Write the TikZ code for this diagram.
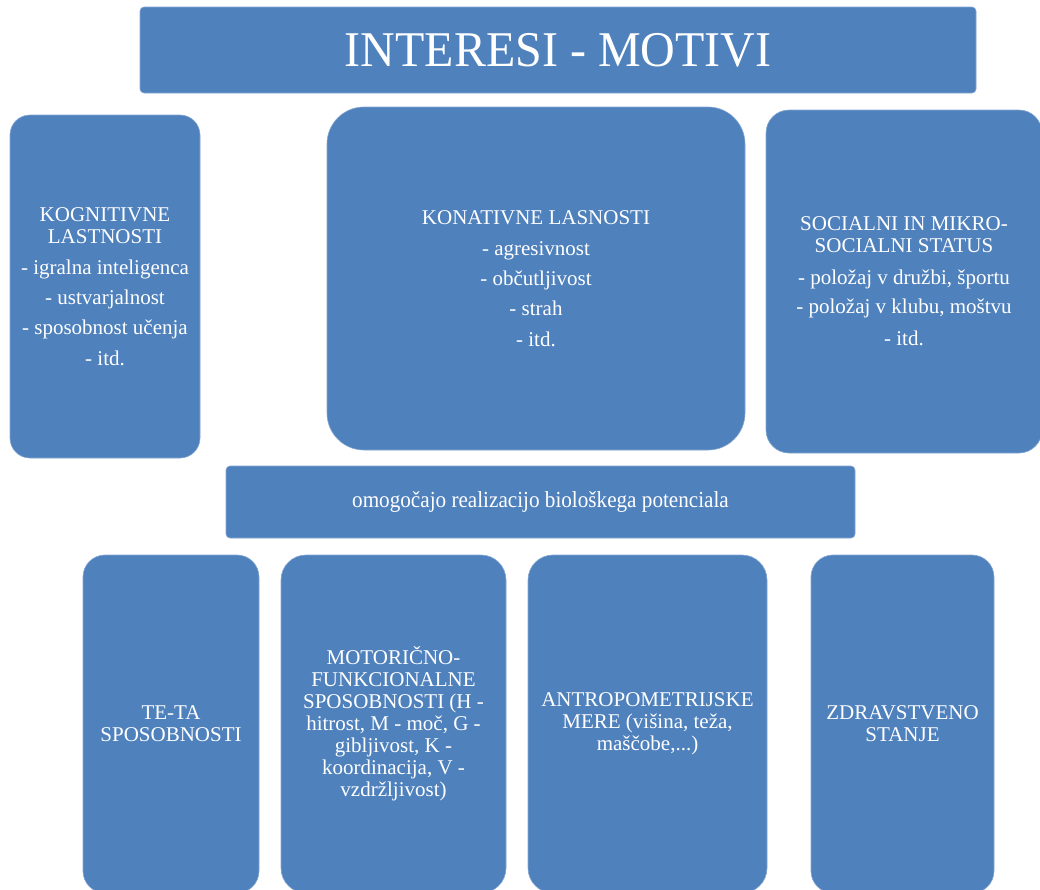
\documentclass[tikz,border=0pt]{standalone}
\usepackage{fontspec}
\setmainfont{Liberation Serif}
\definecolor{boxblue}{RGB}{79,129,189}
\tikzset{
  blk/.style={fill=boxblue, draw=boxblue!70!white, line width=0.6pt, text=white, align=center, inner sep=0pt,
    font=\fontsize{21}{22}\selectfont},
}
\begin{document}
\begin{tikzpicture}[x=1pt,y=-1pt]
\useasboundingbox (0,0) rectangle (1040,889);
\clip (0,0) rectangle (1040,889);
\node[blk, rounded corners=4pt, minimum width=836pt, minimum height=86pt, font=\fontsize{50}{52}\selectfont] (title) at (558,50)
  {\scalebox{0.96}[1]{INTERESI - MOTIVI}};
\node[blk, rounded corners=20pt, minimum width=190pt, minimum height=343pt] (kog) at (105,286.5)
  {KOGNITIVNE\\LASTNOSTI\\[9pt]- igralna inteligenca\\[8pt]- ustvarjalnost\\[8pt]- sposobnost učenja\\[9pt]- itd.};
\node[blk, rounded corners=37pt, minimum width=418pt, minimum height=343pt] (kon) at (536,278.5)
  {KONATIVNE LASNOSTI\\[9pt]- agresivnost\\[8pt]- občutljivost\\[8pt]- strah\\[9pt]- itd.};
\node[blk, rounded corners=23pt, minimum width=276pt, minimum height=343pt] (soc) at (904,281.5)
  {SOCIALNI IN MIKRO-\\SOCIALNI STATUS\\[10pt]- položaj v družbi, športu\\[7pt]- položaj v klubu, moštvu\\[10pt]- itd.};
\node[blk, rounded corners=4pt, minimum width=629pt, minimum height=72pt, font=\fontsize{23}{24}\selectfont] (omo) at (540.5,502)
  {\scalebox{0.92}[1]{omogočajo realizacijo biološkega potenciala}};
\node[blk, rounded corners=22pt, minimum width=176pt, minimum height=338pt] (teta) at (171,724)
  {TE-TA\\SPOSOBNOSTI};
\node[blk, rounded corners=25pt, minimum width=225pt, minimum height=338pt] (mot) at (393.5,724)
  {MOTORIČNO-\\FUNKCIONALNE\\SPOSOBNOSTI (H -\\hitrost, M - moč, G -\\gibljivost, K -\\koordinacija, V -\\vzdržljivost)};
\node[blk, rounded corners=25pt, minimum width=239pt, minimum height=338pt] (ant) at (647.5,724)
  {ANTROPOMETRIJSKE\\MERE (višina, teža,\\maščobe,...)};
\node[blk, rounded corners=22pt, minimum width=183pt, minimum height=338pt] (zdr) at (902.5,724)
  {ZDRAVSTVENO\\STANJE};
\end{tikzpicture}
\end{document}
